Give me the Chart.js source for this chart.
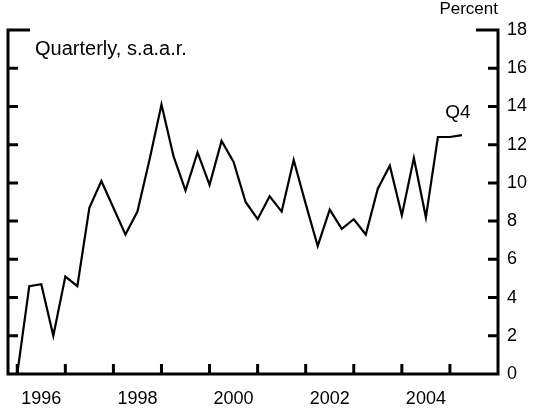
<!DOCTYPE html>
<html>
<head>
<meta charset="utf-8">
<script src="https://cdn.jsdelivr.net/npm/chart.js@4"></script>
<style>
  body { margin: 0; background: #fff; }
  canvas { display: block; }
</style>
</head>
<body>
<canvas id="growthChart" width="536" height="412"></canvas>
<script>
// quarterly series, s.a.a.r.
const quarters = [
  '1995Q3', '1995Q4',
  '1996Q1', '1996Q2', '1996Q3', '1996Q4',
  '1997Q1', '1997Q2', '1997Q3', '1997Q4',
  '1998Q1', '1998Q2', '1998Q3', '1998Q4',
  '1999Q1', '1999Q2', '1999Q3', '1999Q4',
  '2000Q1', '2000Q2', '2000Q3', '2000Q4',
  '2001Q1', '2001Q2', '2001Q3', '2001Q4',
  '2002Q1', '2002Q2', '2002Q3', '2002Q4',
  '2003Q1', '2003Q2', '2003Q3', '2003Q4',
  '2004Q1', '2004Q2', '2004Q3', '2004Q4'
];
const growth = [
  0.0, 4.6,
  4.7, 2.0, 5.1, 4.6,
  8.7, 10.1, 8.7, 7.3,
  8.5, 11.2, 14.1, 11.4,
  9.6, 11.6, 9.9, 12.2,
  11.1, 9.0, 8.1, 9.3,
  8.5, 11.2, 8.9, 6.7,
  8.6, 7.6, 8.1, 7.3,
  9.7, 10.9, 8.3, 11.3,
  8.2, 12.4, 12.4, 12.5
];
const yTicks = [0, 2, 4, 6, 8, 10, 12, 14, 16, 18];
const yearLabels = ['1996', '1998', '2000', '2002', '2004'];

const FONT = 'Liberation Sans, Arial, Helvetica, sans-serif';

// year labels sit on the Q1 of each labelled year; tick marks on each Q3
const labelIdx = yearLabels.map(y => quarters.indexOf(y + 'Q1'));
const tickIdx = quarters.map((q, i) => q.endsWith('Q3') ? i : -1).filter(i => i >= 0);

const frame = {
  id: 'frame',
  afterDatasetsDraw(chart) {
    const { ctx, chartArea: a, scales } = chart;
    const xs = scales.x, ys = scales.y;
    ctx.save();
    ctx.strokeStyle = '#000';
    ctx.lineWidth = 3;
    ctx.lineCap = 'butt';
    ctx.beginPath();
    // left, bottom and right axis lines
    ctx.moveTo(a.left, a.top - 1.5);
    ctx.lineTo(a.left, a.bottom + 1.5);
    ctx.moveTo(a.left - 1.5, a.bottom);
    ctx.lineTo(a.right + 1.5, a.bottom);
    ctx.moveTo(a.right, a.top - 1.5);
    ctx.lineTo(a.right, a.bottom + 1.5);
    // y ticks pointing inward on both sides
    yTicks.forEach(v => {
      const y = ys.getPixelForValue(v);
      const len = (v === yTicks[0] || v === yTicks[yTicks.length - 1]) ? 22 : 10;
      ctx.moveTo(a.left, y);
      ctx.lineTo(a.left + len, y);
      ctx.moveTo(a.right, y);
      ctx.lineTo(a.right - len, y);
    });
    // x ticks pointing up
    tickIdx.forEach(i => {
      const x = xs.getPixelForValue(i);
      ctx.moveTo(x, a.bottom);
      ctx.lineTo(x, a.bottom - 10);
    });
    ctx.stroke();

    ctx.fillStyle = '#000';
    ctx.textBaseline = 'middle';
    ctx.font = '17px ' + FONT;
    ctx.textAlign = 'right';
    ctx.fillText('Percent', a.right, 9);
    ctx.font = '20px ' + FONT;
    ctx.textAlign = 'left';
    ctx.fillText('Quarterly, s.a.a.r.', a.left + 27, a.top + 19);
    // mark the latest quarter
    const last = growth.length - 1;
    ctx.font = '19px ' + FONT;
    ctx.textAlign = 'center';
    ctx.fillText('Q4', xs.getPixelForValue(last) - 4, ys.getPixelForValue(growth[last]) - 22);
    ctx.restore();
  }
};

new Chart(document.getElementById('growthChart'), {
  type: 'line',
  data: {
    datasets: [{
      data: growth.map((v, i) => ({ x: i, y: v })),
      borderColor: '#000',
      borderWidth: 2.2,
      pointRadius: 0,
      tension: 0,
      fill: false
    }]
  },
  options: {
    responsive: false,
    animation: false,
    devicePixelRatio: 1,
    layout: { padding: { left: 8, top: 30, right: 0, bottom: 0 } },
    plugins: { legend: { display: false }, tooltip: { enabled: false } },
    scales: {
      x: {
        type: 'linear',
        min: -0.77,
        max: 40,
        grid: { display: false, drawTicks: false },
        border: { display: false },
        afterBuildTicks(scale) {
          scale.ticks = labelIdx.map(v => ({ value: v }));
        },
        afterFit(scale) { scale.height = 38; },
        ticks: {
          autoSkip: false,
          maxRotation: 0,
          padding: 14,
          color: '#000',
          font: { family: FONT, size: 18 },
          callback: v => yearLabels[labelIdx.indexOf(v)]
        }
      },
      y: {
        position: 'right',
        min: 0,
        max: 18,
        grid: { display: false, drawTicks: false },
        border: { display: false },
        afterFit(scale) { scale.width = 38; },
        ticks: {
          stepSize: 2,
          padding: 9,
          color: '#000',
          font: { family: FONT, size: 18 }
        }
      }
    }
  },
  plugins: [frame]
});
</script>
</body>
</html>
